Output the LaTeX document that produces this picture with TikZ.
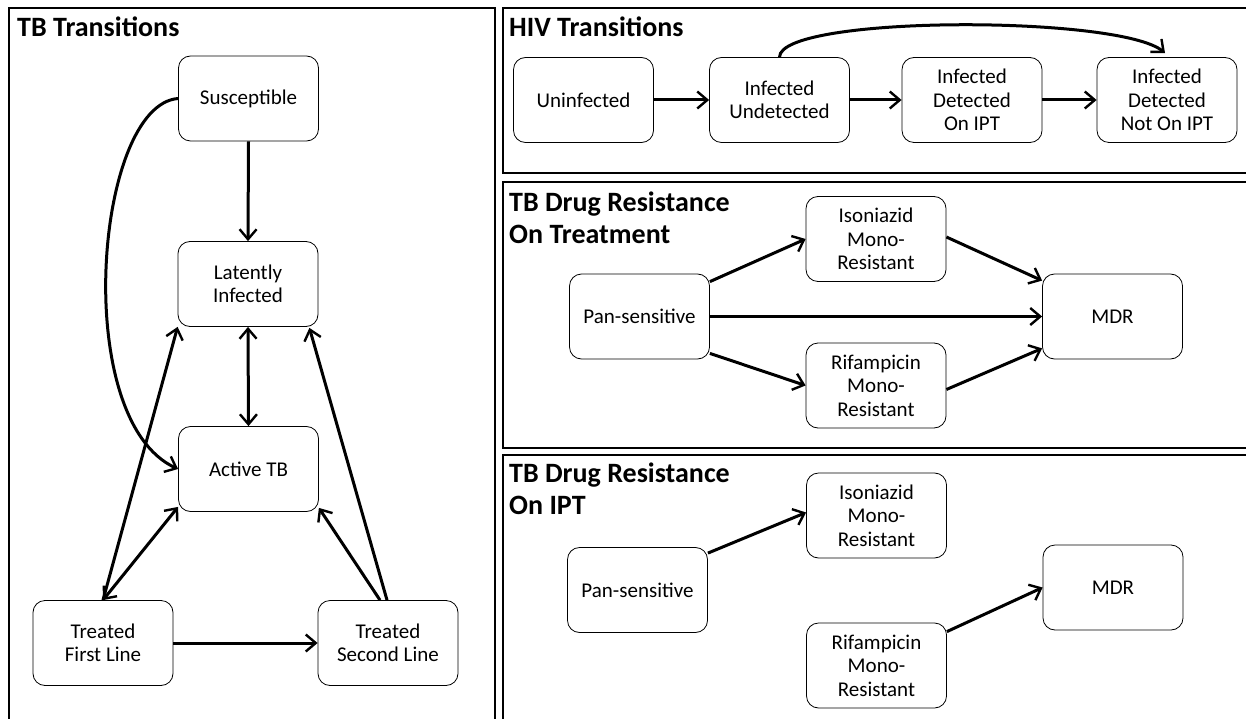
\documentclass[tikz,border=0pt]{standalone}
\usepackage{fontspec}
\setmainfont{Carlito}
\usetikzlibrary{arrows.meta}
\tikzset{
  box/.style={draw, rounded corners=12pt, minimum width=140pt, minimum height=85pt,
    align=center, font=\fontsize{21}{23.5}\selectfont, line width=0.8pt, inner sep=0pt},
  arr/.style={line width=3pt, -{Straight Barb[length=10pt,width=17pt,line width=2.4pt]}},
  darr/.style={line width=3pt, {Straight Barb[length=10pt,width=17pt,line width=2.4pt]}-{Straight Barb[length=10pt,width=17pt,line width=2.4pt]}},
  panel/.style={draw, line width=1.3pt},
  ptitle/.style={font=\fontsize{28}{32}\bfseries\selectfont, anchor=west, align=left, inner sep=0pt}
}
\begin{document}
\begin{tikzpicture}[x=1pt,y=-1pt]
\useasboundingbox (0,0) rectangle (1246,719);
\fill[white] (0,0) rectangle (1246,719);
\clip (0,0) rectangle (1246,719);
% panels
\draw[panel] (9,8) rectangle (495,740);
\draw[panel] (503,8) rectangle (1260,173);
\draw[panel] (503,182) rectangle (1260,448);
\draw[panel] (503,455) rectangle (1260,740);
% titles
\node[ptitle] (t1) at (17,27) {TB Transitions};
\node[ptitle] (t2) at (509,27) {HIV Transitions};
\node[ptitle] (t3) at (509,217.5) {TB Drug Resistance\\On Treatment};
\node[ptitle] (t4) at (509,489) {TB Drug Resistance\\On IPT};
% TB transitions
\node[box] (sus) at (248.5,98.5) {Susceptible};
\node[box] (lat) at (248,284) {Latently\\Infected};
\node[box] (act) at (248.5,469) {Active TB};
\node[box] (tfl) at (103,643) {Treated\\First Line};
\node[box] (tsl) at (388,643) {Treated\\Second Line};
\draw[arr] (sus.south) -- (lat.north);
\draw[darr] (lat.south) -- (act.north);
\draw[arr] (sus.west) .. controls (95,105) and (70,420) .. (act.west);
\draw[arr] (tfl.north) -- (lat.south west);
\draw[darr] (tfl.north) -- ([yshift=5pt]act.south west);
\draw[arr] ([xshift=-8pt]tsl.north) -- ([yshift=4pt]act.south east);
\draw[arr] ([xshift=-1pt]tsl.north) -- ([xshift=-9pt,yshift=-1pt]lat.south east);
\draw[arr] (tfl.east) -- (tsl.west);
% HIV transitions
\node[box] (un) at (583.5,100) {Uninfected};
\node[box] (iu) at (779.5,100) {Infected\\Undetected};
\node[box] (ido) at (972,100) {Infected\\Detected\\On IPT};
\node[box] (idn) at (1167,100) {Infected\\Detected\\Not On IPT};
\draw[arr] (un.east) -- (iu.west);
\draw[arr] (iu.east) -- (ido.west);
\draw[arr] (ido.east) -- (idn.west);
\draw[arr] (iu.north) .. controls (780,15) and (1120,15) .. ([xshift=-2pt,yshift=4pt]idn.north);
% drug resistance on treatment
\node[box] (pan1) at (639.5,316.5) {Pan-sensitive};
\node[box] (iso1) at (876,239) {Isoniazid\\Mono-\\Resistant};
\node[box] (rif1) at (876,385.5) {Rifampicin\\Mono-\\Resistant};
\node[box] (mdr1) at (1112.5,316.5) {MDR};
\draw[arr] ([yshift=-8pt]pan1.north east) -- (iso1.west);
\draw[arr] ([yshift=2pt]iso1.east) -- ([yshift=-7pt]mdr1.north west);
\draw[arr] (pan1.east) -- (mdr1.west);
\draw[arr] ([yshift=6pt]pan1.south east) -- (rif1.west);
\draw[arr] ([yshift=-4pt]rif1.east) -- ([yshift=11pt]mdr1.south west);
% drug resistance on IPT
\node[box] (pan2) at (637.5,590) {Pan-sensitive};
\node[box] (iso2) at (876.5,515.5) {Isoniazid\\Mono-\\Resistant};
\node[box] (rif2) at (876.5,665.5) {Rifampicin\\Mono-\\Resistant};
\node[box] (mdr2) at (1113,587.5) {MDR};
\draw[arr] ([yshift=-6pt]pan2.north east) -- ([yshift=3pt]iso2.west);
\draw[arr] ([yshift=-9pt]rif2.north east) -- (mdr2.west);
\end{tikzpicture}
\end{document}
